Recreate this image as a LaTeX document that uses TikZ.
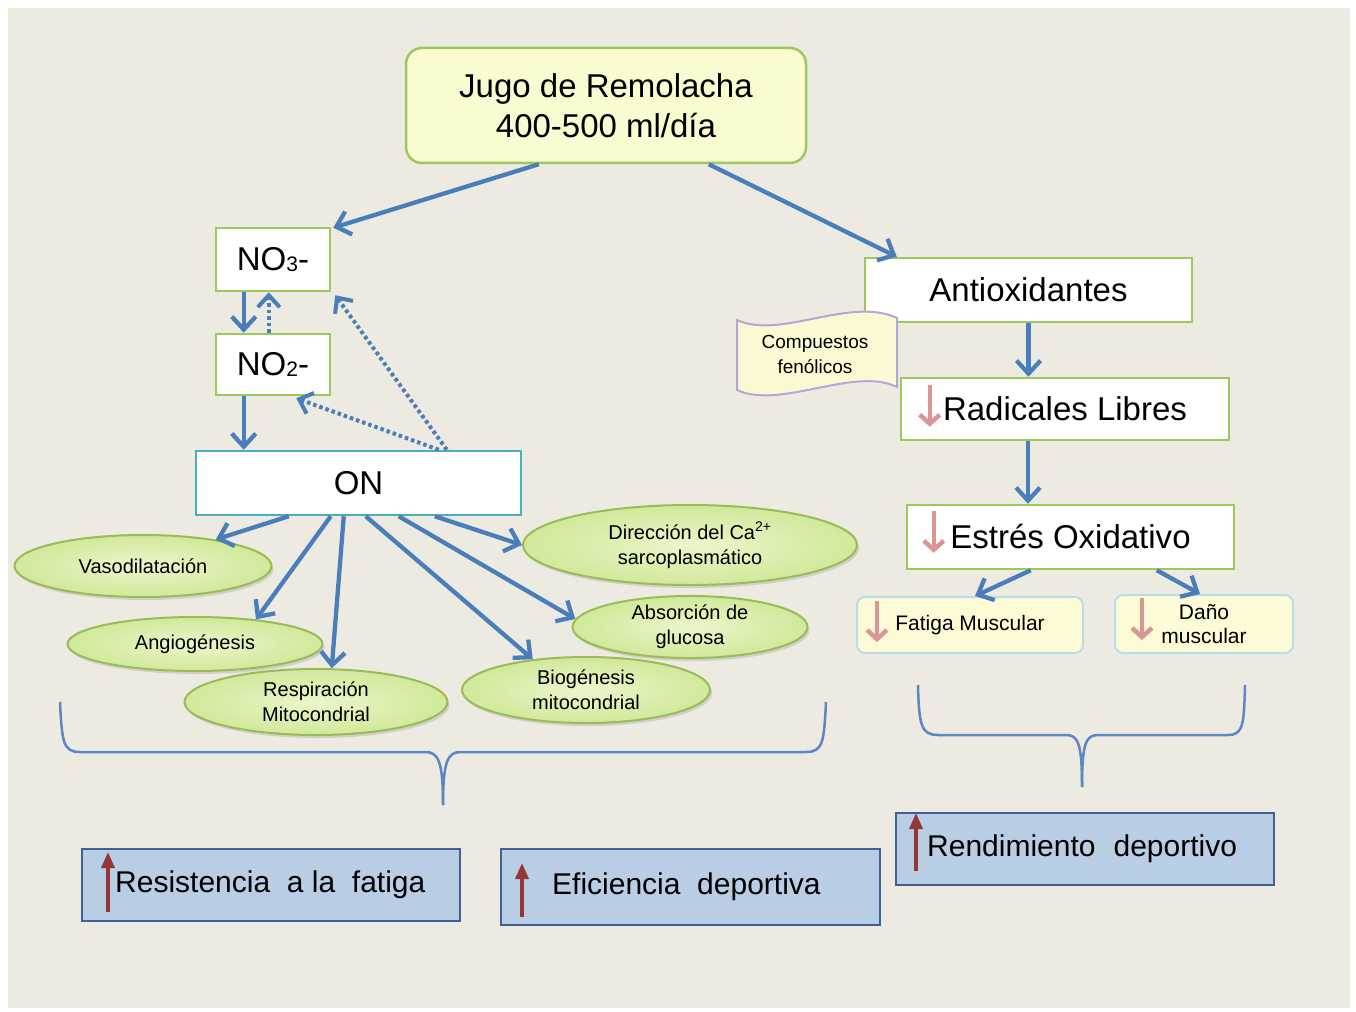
\documentclass[tikz,border=0pt]{standalone}
\usepackage{fontspec}
\setmainfont{Liberation Sans}
\usetikzlibrary{arrows.meta,shapes.geometric,shadows,calc}
\definecolor{bg}{HTML}{EDEBE1}
\definecolor{arrblue}{HTML}{4A7EBB}
\definecolor{boxgreen}{HTML}{9ACA5C}
\definecolor{topfill}{HTML}{FBFBD2}
\definecolor{onblue}{HTML}{4BACC6}
\definecolor{ellfill}{HTML}{EBF6CC}
\definecolor{ellout}{HTML}{D0E99A}
\definecolor{ellline}{HTML}{9BBB59}
\definecolor{pinkarr}{HTML}{D99694}
\definecolor{redarr}{HTML}{953735}
\definecolor{botfill}{HTML}{B9CDE5}
\definecolor{botline}{HTML}{3F6196}
\definecolor{lightblue}{HTML}{B7DEE8}
\definecolor{yelfill}{HTML}{FDFBD6}
\definecolor{wavefill}{HTML}{FBF9D4}
\definecolor{waveline}{HTML}{B4A7D6}
\definecolor{bracecol}{HTML}{5B87C5}
\tikzset{
  bigtxt/.style={font=\fontsize{33}{40}\selectfont},
  whitebox/.style={draw=boxgreen, line width=2.5pt, fill=white, inner sep=0pt, bigtxt},
  ell/.style={ellipse, draw=ellline, line width=2pt, inner color=ellfill, outer color=ellout,
      inner sep=0pt, align=center, font=\fontsize{20}{25}\selectfont,
      drop shadow={opacity=0.25, shadow xshift=2pt, shadow yshift=-3pt}},
  arr/.style={draw=arrblue, line width=4.3pt, -{Straight Barb[length=13pt,width=24pt]}},
  dotarr/.style={draw=arrblue, line width=4pt, dash pattern=on 3.5pt off 3pt, -{Straight Barb[length=12pt,width=22pt]}},
  pinkdown/.style={draw=pinkarr, line width=4.5pt, -{Straight Barb[length=9pt,width=20pt]}},
  redup/.style={draw=redarr, line width=3.5pt, -{Triangle[length=16pt,width=13pt]}},
  botbox/.style={draw=botline, line width=2.5pt, fill=botfill, inner sep=0pt},
  yelbox/.style={draw=lightblue, line width=2pt, fill=yelfill, rounded corners=8pt, inner sep=0pt},
  bracestyle/.style={draw=bracecol, line width=2.5pt}
}
\begin{document}
\begin{tikzpicture}[x=1pt,y=-1pt]
\useasboundingbox (0,0) rectangle (1356,1011);
\fill[white] (0,0) rectangle (1356,1011);
\fill[bg] (8,8) rectangle (1350,1008);

% top box
\node[draw=boxgreen, line width=2.5pt, fill=topfill, rounded corners=16pt, minimum width=400pt,
      minimum height=115pt, inner sep=0pt, align=center, bigtxt] (jugo) at (606,105.5)
      {Jugo de Remolacha\\400-500 ml/día};

% left chain
\node[whitebox, minimum width=114pt, minimum height=63pt] (no3) at (273,259.5)
  {NO\raisebox{-1pt}{\fontsize{21}{21}\selectfont 3}-};
\node[whitebox, minimum width=114pt, minimum height=61pt] (no2) at (273,364.5)
  {NO\raisebox{-1pt}{\fontsize{21}{21}\selectfont 2}-};
\node[draw=onblue, line width=2.5pt, fill=white, inner sep=0pt, bigtxt,
      minimum width=325pt, minimum height=64pt] (on) at (358.5,483) {ON};

% right chain
\node[whitebox, minimum width=327pt, minimum height=64pt] (anti) at (1028.5,290) {Antioxidantes};
\node[whitebox, minimum width=328pt, minimum height=62pt] (rad) at (1065,409) {Radicales Libres};
\node[whitebox, minimum width=327pt, minimum height=64pt] (est) at (1070.5,537) {Estrés Oxidativo};
\node[yelbox, minimum width=226pt, minimum height=56pt, font=\fontsize{21}{24}\selectfont] (fatiga) at (970,625)
  {Fatiga Muscular};
\node[yelbox, minimum width=178pt, minimum height=58pt, align=center, font=\fontsize{21}{24}\selectfont] (dano) at (1204,624)
  {Daño\\muscular};

% compuestos fenolicos wave
\draw[draw=waveline, line width=2pt, fill=wavefill]
  (737,320) .. controls (780,340) and (850,296) .. (897,318)
  -- (897,387) .. controls (854,366) and (780,410) .. (737,390) -- cycle;
\node[align=center, font=\fontsize{19}{25}\selectfont, inner sep=0pt] (comp) at (815,354)
  {Compuestos\\fenólicos};

% ellipses
\node[ell, minimum width=257pt, minimum height=62pt] (vaso) at (143,566) {Vasodilatación};
\node[ell, minimum width=255pt, minimum height=54pt] (angio) at (195,644) {Angiogénesis};
\node[ell, minimum width=263pt, minimum height=66pt] (resp) at (316,702) {Respiración\\Mitocondrial};
\node[ell, minimum width=334pt, minimum height=80pt] (dir) at (690,545) {Dirección del  Ca\textsuperscript{2+}\\sarcoplasmático};
\node[ell, minimum width=235pt, minimum height=60pt] (absor) at (690,627) {Absorción de\\glucosa};
\node[ell, minimum width=248pt, minimum height=66pt] (bio) at (586,690) {Biogénesis\\mitocondrial};

% bottom boxes
\node[botbox, minimum width=378pt, minimum height=72pt] (resist) at (271,885) {};
\node[botbox, minimum width=379pt, minimum height=76pt] (efic) at (690.5,887) {};
\node[botbox, minimum width=378pt, minimum height=72pt] (rend) at (1085,849) {};
\node[anchor=west, inner sep=0pt, font=\fontsize{30}{36}\selectfont] (resisttxt) at (115,885) {Resistencia\ \ a la\ \ fatiga};
\node[anchor=west, inner sep=0pt, font=\fontsize{30}{36}\selectfont] (efictxt) at (552,887) {Eficiencia\ \ deportiva};
\node[anchor=west, inner sep=0pt, font=\fontsize{30}{36}\selectfont] (rendtxt) at (927,849) {Rendimiento\hspace{18pt}deportivo};

% red up arrows
\draw[redup] ([xshift=-7pt]resisttxt.west) ++(0,27) -- ++(0,-60);
\draw[redup] ([xshift=-30pt]efictxt.west) ++(0,30) -- ++(0,-54);
\draw[redup] ([xshift=-11pt]rendtxt.west) ++(0,22) -- ++(0,-58);

% pink down arrows
\draw[pinkdown] ([xshift=30pt,yshift=-8pt]rad.north west) -- ++(0,42);
\draw[pinkdown] ([xshift=28pt,yshift=-7pt]est.north west) -- ++(0,42);
\draw[pinkdown] ([xshift=21pt,yshift=-5pt]fatiga.north west) -- ++(0,41);
\draw[pinkdown] ([xshift=28pt,yshift=-4pt]dano.north west) -- ++(0,42);

% connectors top
\draw[arr] ([xshift=134pt]jugo.south west) -- ([xshift=2pt,yshift=-1pt]no3.north east);
\draw[arr] ([xshift=304pt]jugo.south west) -- ([xshift=33pt]anti.north west);

% NO3 / NO2 / ON
\draw[arr] ([xshift=29pt]no3.south west) -- ([xshift=29pt]no2.north west);
\draw[dotarr] ([xshift=54pt]no2.north west) -- ([xshift=54pt]no3.south west);
\draw[arr] ([xshift=29pt]no2.south west) -- ([xshift=49pt]on.north west);
\draw[dotarr] ([xshift=252pt]on.north west) -- ([xshift=4pt,yshift=-3pt]no3.south east);
\draw[dotarr] ([xshift=244pt]on.north west) -- ([xshift=-35pt,yshift=-2pt]no2.south east);

% ON to effects
\draw[arr] ([xshift=94pt]on.south west) -- (vaso.20);
\draw[arr] ([xshift=136pt]on.south west) -- (angio.22);
\draw[arr] ([xshift=149pt]on.south west) -- (resp.65);
\draw[arr] ([xshift=171pt]on.south west) -- (bio.150);
\draw[arr] ([xshift=204pt]on.south west) -- (absor.176);
\draw[arr] ([xshift=240pt]on.south west) -- (dir.west);

% right chain connectors
\draw[arr] (anti.south) -- (anti.south |- rad.north);
\draw[arr] ([xshift=-37pt]rad.south) -- ([xshift=-37pt]rad.south |- est.north);
\draw[arr] ([xshift=125pt]est.south west) -- ([xshift=5pt]fatiga.north);
\draw[arr] ([xshift=251pt]est.south west) -- ([xshift=-4pt]dano.north);

% braces
\coordinate (lbtip) at (443,805);
\coordinate (rbtip) at (1082,787);
\draw[bracestyle] (60,702) .. controls (62,742) and (63,752) .. (80,752) -- (425,752)
  .. controls (438,752) and (443,760) .. (lbtip);
\draw[bracestyle] (lbtip) .. controls (443,760) and (448,752) .. (461,752) -- (806,752)
  .. controls (823,752) and (824,742) .. (826,702);
\draw[bracestyle] (918,685) .. controls (919,725) and (921,735) .. (938,735) -- (1066,735)
  .. controls (1078,735) and (1082,743) .. (rbtip);
\draw[bracestyle] (rbtip) .. controls (1082,743) and (1086,735) .. (1098,735) -- (1228,735)
  .. controls (1243,735) and (1244,725) .. (1245,685);
\end{tikzpicture}
\end{document}
